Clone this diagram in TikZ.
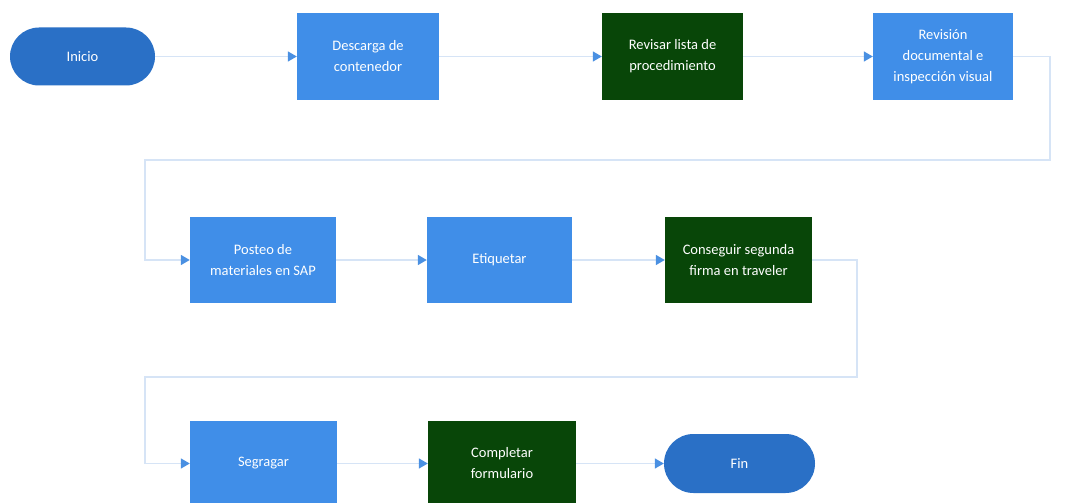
\documentclass[tikz,border=0pt]{standalone}
\usepackage{fontspec}
\setmainfont{Carlito}
\usetikzlibrary{arrows.meta,shapes.misc}
\definecolor{boxblue}{RGB}{64,142,232}
\definecolor{darkgreen}{RGB}{8,70,8}
\definecolor{termblue}{RGB}{42,112,198}
\definecolor{linecol}{RGB}{214,228,246}
\definecolor{tipcol}{RGB}{74,144,226}
\begin{document}
\begin{tikzpicture}[x=1pt,y=-1pt,
  lbl/.style={text=white, align=center, font=\fontsize{14.5}{21}\selectfont, inner sep=0pt},
  procbox/.style={lbl, rectangle, fill=boxblue, minimum height=86pt},
  greenbox/.style={lbl, rectangle, fill=darkgreen, minimum height=86pt},
  termbox/.style={lbl, rounded rectangle, fill=termblue, minimum height=58pt},
  conn/.style={draw=linecol, line width=1.5pt,
    -{Triangle[length=9pt,width=10pt,color=tipcol,fill=tipcol]}}]
\fill[white] (0,0) rectangle (1074,503);
\useasboundingbox (0,0) rectangle (1074,503);
% row 1
\node[termbox, minimum width=145pt] (inicio) at (82.5,56.5) {Inicio};
\node[procbox, minimum width=142pt] (desc) at (368,56.5) {Descarga de\\contenedor};
\node[greenbox, minimum width=141pt] (revl) at (672.5,56.5) {Revisar lista de\\procedimiento};
\node[procbox, minimum width=140pt] (revd) at (943,56.5) {Revisión\\documental e\\inspección visual};
% row 2
\node[procbox, minimum width=146pt] (post) at (263,260) {Posteo de\\materiales en SAP};
\node[procbox, minimum width=145pt] (etiq) at (499.5,260) {Etiquetar};
\node[greenbox, minimum width=147pt] (cons) at (738.5,260) {Conseguir segunda\\firma en traveler};
% row 3
\node[procbox, minimum width=147pt] (segr) at (263.5,463.5) {Segragar};
\node[greenbox, minimum width=148pt] (comp) at (502,463.5) {Completar\\formulario};
\node[termbox, minimum width=151pt, minimum height=59pt] (fin) at (739.5,463.5) {Fin};
% helper bend points
\coordinate (b1) at (1050,160);
\coordinate (b2) at (145,160);
\coordinate (c1) at (857,377);
\coordinate (c2) at (145,377);
% connectors
\draw[conn] (inicio.east) -- (desc.west);
\draw[conn] (desc.east) -- (revl.west);
\draw[conn] (revl.east) -- (revd.west);
\draw[conn] (revd.east) -| (b1) -- (b2) |- (post.west);
\draw[conn] (post.east) -- (etiq.west);
\draw[conn] (etiq.east) -- (cons.west);
\draw[conn] (cons.east) -| (c1) -- (c2) |- (segr.west);
\draw[conn] (segr.east) -- (comp.west);
\draw[conn] (comp.east) -- (fin.west);
\end{tikzpicture}
\end{document}
